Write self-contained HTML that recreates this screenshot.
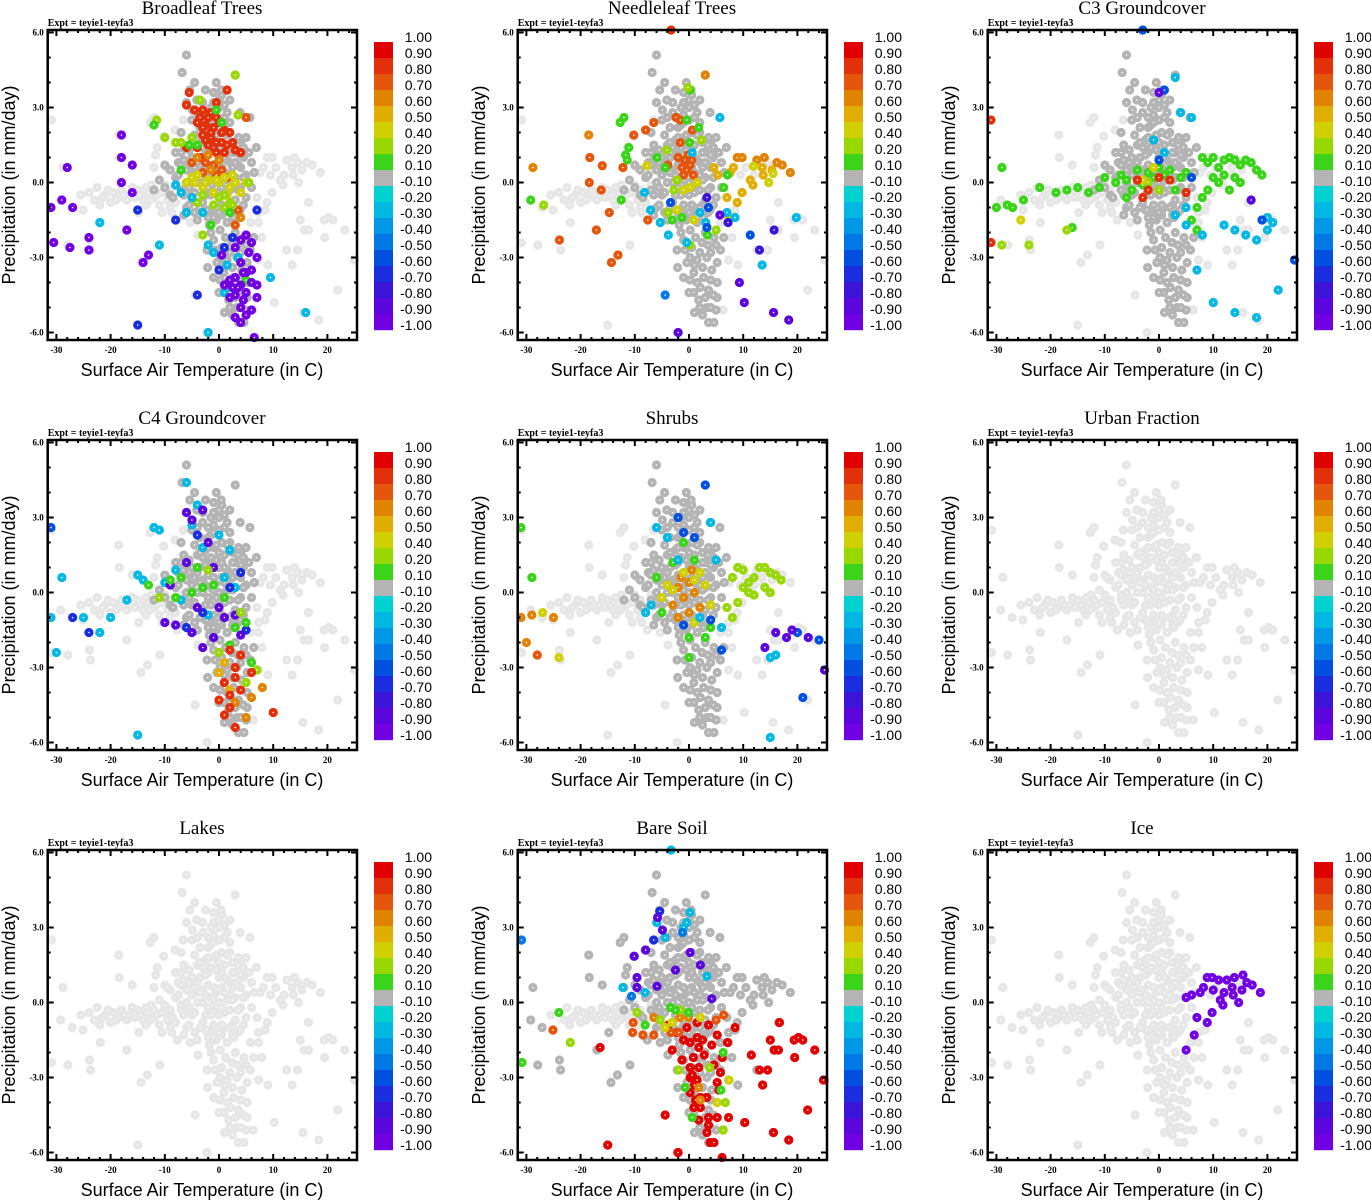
<!DOCTYPE html>
<html><head><meta charset="utf-8">
<style>
html,body{margin:0;padding:0;background:#fff;}
svg{display:block;}
.ttl{font-family:"Liberation Serif",serif;font-size:19px;}
.expt{font-family:"Liberation Serif",serif;font-size:10px;font-weight:bold;}
.tick{font-family:"Liberation Serif",serif;font-size:9px;font-weight:bold;}
.axt{font-family:"Liberation Sans",sans-serif;font-size:18px;}
.cbl{font-family:"Liberation Sans",sans-serif;font-size:14px;}
</style></head>
<body>
<svg id="fig" width="1371" height="1200" viewBox="0 0 1371 1200" xmlns="http://www.w3.org/2000/svg"></svg>
<script>
// ---- data ----
const panelTitles = ["Broadleaf Trees","Needleleaf Trees","C3 Groundcover","C4 Groundcover","Shrubs","Urban Fraction","Lakes","Bare Soil","Ice"];
const xTicks = [-30,-20,-10,0,10,20];
const yTicks = [6,3,0,-3,-6];
const yTickLabels = ["6.0","3.0","0.0","-3.0","-6.0"];
const cbLabels = ["1.00","0.90","0.80","0.70","0.60","0.50","0.40","0.20","0.10","-0.10","-0.20","-0.30","-0.40","-0.50","-0.60","-0.70","-0.80","-0.90","-1.00"];
const cbBounds = [1,0.9,0.8,0.7,0.6,0.5,0.4,0.2,0.1,-0.1,-0.2,-0.3,-0.4,-0.5,-0.6,-0.7,-0.8,-0.9,-1];
const cbColors = ["#e10000","#e2300a","#e4560c","#e08400","#e0ae00","#d0d000","#98d800","#3cd41a","#b4b4b4","#00d2d2","#00b8e2","#0098e6","#0078e6","#0050e0","#1a2ee0","#3c14d8","#5a06dc","#7000e2"];

const baseCore = [[-8,0.2],[-7,-0.3],[-6,0.5],[-5,1.0],[-5,-0.5],[-4,0],[-4,1.5],[-3,0.5],[-3,-0.8],[-2,1.2],[-2,-0.2],[-2,2.2],[-1,0.6],[-1,-0.9],[-1,1.8],[0,0],[0,1],[0,-0.5],[0,2.5],[1,0.4],[1,1.5],[1,-1],[2,0.8],[2,-0.3],[2,2],[3,0.2],[3,1.2],[3,-0.7],[4,0.6],[4,-0.2],[4,1.6],[5,0.3],[5,-0.6],[6,0.8],[-6,-1],[-9,-0.5],[-10,-0.2],[-11,0.1],[-12,-0.3],[-1.5,3],[0.5,3.5],[-3,2.8],[1.5,2.8],[-0.5,-1.5],[1.5,-1.6],[-4.5,-1.2],[2.5,1.6],[-2.5,1.7],[3.5,-1.2],[5.5,1.2],[-5,2.5],[-3.5,2.2],[-1,2.7],[2,2.4],[0,3.0],[-6,0],[-5.5,-0.2],[-4.5,0.6],[-3.5,1.0],[-2.5,0.3],[-1.5,-0.5],[-0.5,0.4],[0.5,-0.2],[1.5,0.9],[2.5,0.1],[3.5,0.7],[4.5,1.0],[-0.5,1.3],[0.5,2.0],[-1.5,2.3],[-2.5,-1.1],[0.5,-0.9],[2.5,-0.9],[-6,5.1],[-6.8,4.4],[3,4.3],[-5.4,3.7],[0.4,3.7],[-6,3.2],[-4.1,3.3],[-1,3.2],[-4.9,2.9],[3.9,2.8],[5.7,2.6],[3.6,1.8],[6.9,1.4],[-6.5,1.5],[-7.5,0.8],[-8.5,-0.6],[-7,1.2],
[-7.5,0.3],[-6.5,-0.5],[-5.5,0.8],[-4.5,-0.4],[-3.5,0.4],[-2.5,-0.5],[-1.5,0.2],[-0.5,-0.2],[0.5,0.6],[1.5,0.1],[2.5,0.6],[3.5,-0.3],[4.5,0.2],[-6.5,0.9],[-5.5,1.3],[-4.5,1.9],[-3.5,1.6],[-2.5,1.1],[-1.5,1.4],[-0.5,1.9],[0.5,1.2],[1.5,1.9],[2.5,1.2],[3.5,1.5],[4.5,1.4],[-5.5,-0.9],[-3.5,-1.0],[-1.5,-1.1],[0.5,-1.3],[2.5,-1.3],[4.5,-0.9],[-4,-1.5],[-2,-1.4],[0,-1.2],[2,-1.0],[-1,2.4],[1,2.6],[-2,2.6],[0,3.3],[-1,3.6],[-3,3.2],[-4,2.6],[1,3.1],[-0.5,4.0],[-2.5,3.7],[-4.5,4.0],[2,3.3],[-7,2.0],[-8,1.2],[-9,0.5],[-10,0.7],[5,1.8],[6,-0.2],[6.5,0.4],[-6.5,-1.3],[-7,0.7],[-3,0],[-2,0.7],[-1,0.1],[0,0.5],[1,-0.4],[2,0.3],[3,0.8],[4,1.1],[-4,0.8],[-5,0.3],[-3,1.4],[-2,1.8],[0,1.6],[1,1.0]];
const baseLeftBand = [[-24,-0.4],[-22.5,-0.2],[-21,-0.5],[-19.5,-0.4],[-18,-0.3],[-16.5,-0.5],[-15,-0.3],[-13.5,-0.2],[-12,-0.6],[-10.5,-0.4],[-9,-0.3],[-23,-0.7],[-20,-0.8],[-17,-0.7],[-14,-0.7],[-11,-0.9],[-8,-0.8],[-7,-0.1],[-12.7,-0.7],[-10.5,-1.2],[-8.7,-1.2],[-25.5,-0.5],[-21.5,-0.6],[-18.5,-0.6],[-15.5,-0.6],[-13,-0.4],[-9.5,-0.7],[-20.5,-0.3],[-17.5,-0.5],[-14.5,-0.5],[-11.5,-0.5],[-16,-0.2],[-12.5,-0.1],[-10,-0.1],[-19,-0.7],[-22,-0.9],[-13.5,-0.9],[-9,-1.0]];
const baseLeftOuter = [[-28.8,0.6],[-30.9,2.5],[-18.5,1.9],[-18.4,1.0],[-16,0.7],[-12.7,2.4],[-12,2.6],[-10.2,1.85],[-11.4,1.4],[-11.7,1.1],[-12,0.6],[-9.6,0.6],[-25.1,-1.1],[-27.1,-1.0],[-29.2,-0.7],[-21.9,-1.6],[-17,-1.9],[-23.9,-2.3],[-23.7,-2.7],[-27.9,-2.5],[-30.9,-2.4],[-14.4,-3.2],[-13.2,-2.9],[-10.9,-2.5],[-15,-5.7],[-4.4,-4.5],[-2.2,-6.0],[-14.8,-1.2],[-7.7,-1.5],[-8.1,2.1],[-6.6,2.5],[-5.3,-1.6],[-3.9,-2.1]];
const baseRight = [[8.9,1.0],[9.8,1.0],[12.5,0.9],[13.9,1.0],[16.2,0.8],[17.2,0.7],[18.7,0.4],[14.7,0.0],[11.3,0.1],[11.8,-0.1],[7.6,0.4],[8.2,0.6],[13.5,0.6],[15.3,0.5],[13.7,0.3],[9.8,-0.4],[8.9,-0.8],[7.0,-0.6],[8.5,-1.1],[7.3,-1.2],[5.8,-1.6],[7.3,-1.6],[7.9,-2.2],[16.5,-0.8],[15.0,-1.5],[15.7,-1.9],[16.5,-1.9],[19.4,-1.5],[20.2,-1.4],[21.0,-1.5],[23.2,-1.9],[19.5,-2.2],[12.5,-2.7],[14.5,-2.7],[13.5,-3.3],[21.9,-4.3],[15.5,-5.2],[18.4,-5.5],[10.2,-4.8],[9.0,-3.3],[7.3,-3.1],[6.3,-5.1],[25,-3.1],[10.5,0.6],[12,0.3],[14.5,0.8],[9.5,0.3]];
const baseLower = [[-2.2,-2.7],[-2.1,-3.4],[-0.4,-3.2],[0.2,-3.9],[0.9,-4.4],[1.8,-4.7],[3.3,-5.0],[3.6,-5.6],[4.6,-5.6],[5.2,-4.6],[5.2,-4.0],[2.7,-3.8],[1.5,-3.1],[3.3,-3.0],[5.2,-3.2],[5.8,-2.7],[6.4,-2.2],[4.6,-2.2],[-1.0,-2.3],[0.2,-1.9],[1.5,-1.6],[2.7,-1.4],[-1.0,-1.4],[3.9,-1.1],[-2.2,-1.1],[0.9,-3.6],[4.2,-3.5],[2.1,-4.2],[3.6,-4.3],[0.2,-3.0],[-0.7,-2.7],[2.4,-2.4],[1.2,-2.2],[3.0,-2.0],[4.0,-2.8],[1.0,-5.2],[4.0,-5.0],[2.5,-5.3],[-1.5,-2.0],[0.5,-2.6],[2,-2.8],[3.5,-2.5],[5,-2.5],[1,-3.3],[2.5,-3.4],[4,-3.9],[0,-4.4],[1.5,-4.0],[3,-4.6],[4.5,-4.5],[2,-5.0],[5,-5.1],[-1,-3.8],[-1.8,-1.7]];

const darkBroadleaf = ["core","lower"];
const darkNeedleleaf = ["core","lower"];
const darkC3 = ["core","lower"];
const darkC4 = ["core","lower"];
const darkShrubs = ["core","lower"];
const darkUrban = [];
const darkLakes = [];
const darkBareSoil = ["core","lower","right","leftOuter"];
const darkIce = [];

const ptsBroadleaf = [[-5.5,3.6,0.85],[-6,3.1,0.85],[-4.5,2.9,0.85],[-3,2.9,0.85],[-1.5,2.8,0.85],[-0.5,3.2,0.85],[1.5,3.7,0.85],[-4,2.4,0.85],[-2.5,2.3,0.85],[-1,2.2,0.85],[0,2.4,0.85],[1,2.1,0.85],[2,2.0,0.85],[-3,1.9,0.85],[-1.5,1.8,0.85],[0.5,1.6,0.85],[-2,1.5,0.85],[-4,1.4,0.85],[3,1.3,0.85],[4,1.2,0.85],[-6,1.4,0.85],[1,1.2,0.85],[-0.5,1.2,0.85],[-3.5,1.0,0.85],[-3.5,2.6,0.85],[-2,2.6,0.85],[-0.5,2.6,0.85],[-3,2.2,0.85],[-1.5,2.0,0.85],[0.5,2.0,0.85],[-2.5,1.7,0.85],[-0.5,1.6,0.85],[1.5,1.5,0.85],[-1,1.4,0.85],[2.5,1.6,0.85],[-2.5,0.8,0.75],[-1,0.7,0.75],[-5,0.8,0.75],[0.5,0.5,0.75],[-3,0.4,0.75],[-0.5,0.3,0.75],[1.5,0.2,0.75],[5,2.6,0.75],[3.5,-1.1,0.75],[3,-1.7,0.75],[4,-1.4,0.65],[-4,1.0,0.65],[-2,1.1,0.65],[0,0.9,0.65],[-1.5,0.5,0.65],[-6,0.0,0.45],[-4,0.3,0.45],[-2,0.1,0.45],[0,0,0.45],[1,0.2,0.45],[2,-0.2,0.45],[3,0.0,0.45],[-3,-0.2,0.45],[-1,-0.4,0.45],[-5,0.2,0.45],[4,-0.4,0.45],[5,0,0.45],[-4.5,0.0,0.45],[-2.5,0.0,0.45],[-0.5,0.1,0.45],[1.5,-0.5,0.45],[2.5,0.3,0.45],[0,-0.6,0.3],[2,-0.8,0.3],[-3,-0.5,0.3],[1,-1.0,0.3],[-4,-0.8,0.3],[-7,1.6,0.3],[-5,1.8,0.3],[3.5,2.7,0.3],[3,4.3,0.3],[-3.5,3.3,0.3],[-8,1.6,0.3],[-10,1.8,0.3],[-11.5,2.5,0.3],[-3,-2.1,0.3],[5.5,0.0,0.3],[-1,-0.9,0.3],[1,-0.5,0.3],[2.5,-0.9,0.3],[-12,2.3,0.15],[-5.5,1.5,0.15],[-7,0.5,0.15],[0.5,2.4,0.15],[5,-3.9,0.15],[-1.5,-1.7,0.15],[2,-1.2,0.15],[-4,1.5,0.15],[-0.5,2.9,0.15],[-7,-0.4,-0.25],[-6,-1.2,-0.25],[-8,-0.1,-0.25],[-22,-1.6,-0.25],[-11,-2.5,-0.25],[16,-5.2,-0.25],[-2,-6.0,-0.25],[9.5,-3.8,-0.25],[-1,-2.8,-0.25],[1.5,-3.3,-0.25],[3.5,-3.0,-0.25],[1,-4.4,-0.25],[-5,-0.6,-0.25],[-3,-1.2,-0.25],[-2,-2.5,-0.25],[-15,-5.7,-0.65],[-15,-1.1,-0.65],[-8,-1.5,-0.65],[-4,-4.5,-0.65],[7,-1.1,-0.65],[1,-2.6,-0.65],[0,-3.5,-0.65],[2.5,-2.2,-0.65],[-18,1.9,-0.95],[-18,1.0,-0.95],[-18,0.0,-0.95],[-16,0.7,-0.95],[-16,-0.4,-0.95],[-28,0.6,-0.95],[-29,-0.7,-0.95],[-27,-1.0,-0.95],[-31,-1.0,-0.95],[-30.5,-2.4,-0.95],[-27.5,-2.6,-0.95],[-24,-2.2,-0.95],[-24,-2.7,-0.95],[-17,-1.9,-0.95],[-13,-2.9,-0.95],[-14,-3.2,-0.95],[4,-2.3,-0.95],[5,-2.1,-0.95],[6,-2.4,-0.95],[4,-3.2,-0.95],[5,-3.6,-0.95],[6,-3.5,-0.95],[3,-3.8,-0.95],[4,-4.1,-0.95],[5,-4.4,-0.95],[2,-4.6,-0.95],[3,-4.5,-0.95],[7,-4.1,-0.95],[4,-5.0,-0.95],[5,-5.3,-0.95],[3,-5.4,-0.95],[4,-5.6,-0.95],[6,-5.1,-0.95],[1,-4.1,-0.95],[2,-3.9,-0.95],[7,-3.0,-0.95],[6.5,-6.2,-0.95],[3,-2.6,-0.95],[7,-4.6,-0.95],[6,-4.0,-0.95],[0.5,-2.9,-0.95],[3.5,-4.2,-0.95],[4.5,-4.7,-0.95],[2.5,-4.2,-0.95],[4.5,-3.6,-0.95],[5.5,-2.8,-0.95]];

const ptsNeedleleaf = [[3,4.3,0.6],[-18.5,1.9,0.6],[-28.8,0.6,0.6],[-18.3,1.0,0.75],[-16,0.67,0.75],[-18.4,0,0.75],[-16.2,-0.3,0.75],[-14.7,-1.2,0.75],[-17.1,-1.9,0.75],[-23.9,-2.3,0.75],[-13.1,-2.9,0.75],[-14.3,-3.2,0.75],[-10.2,1.9,0.75],[-8.0,2.1,0.75],[-6.5,2.4,0.75],[-2.4,2.6,0.75],[-1.6,2.5,0.75],[0.6,2.1,0.75],[-1.6,1.6,0.75],[-7.6,-1.5,0.75],[-12.2,0.6,0.75],[-3.9,0.7,0.75],[-1.3,0.6,0.75],[-0.4,0.5,0.75],[0.2,0.7,0.75],[-1,0.3,0.75],[-2,1.0,0.75],[-0.8,0.9,0.75],[0.8,0.3,0.75],[-0.2,1.1,0.75],[0.5,0.9,0.75],[8.9,1.0,0.6],[9.8,1.0,0.6],[12.5,0.9,0.6],[13.9,1.0,0.6],[16.2,0.8,0.6],[17.2,0.7,0.6],[18.7,0.4,0.6],[11.3,0.1,0.5],[11.8,-0.1,0.5],[7.6,0.4,0.5],[8.2,0.6,0.5],[13.5,0.6,0.5],[15.3,0.5,0.5],[13.7,0.3,0.5],[9.8,-0.4,0.5],[8.9,-0.8,0.5],[7.0,-0.6,0.5],[5.3,0.3,0.5],[4.6,0.6,0.5],[11.9,0.65,0.45],[14.7,0,0.45],[15.5,0.36,0.45],[7,-1.3,0.45],[0.9,-1.5,0.45],[-2.2,-1.1,0.45],[-7.8,0.67,0.45],[0.2,-0.2,0.45],[-1,-0.3,0.45],[1.5,0.0,0.45],[-12.7,2.4,0.15],[-12,2.6,0.15],[-11.1,1.4,0.15],[-11.7,1.1,0.15],[-11.4,0.9,0.15],[-29.2,-0.7,0.15],[-12.5,-0.7,0.15],[0.2,3.7,0.15],[-0.4,2.5,0.15],[1.8,2.2,0.15],[0.1,1.6,0.15],[-5.9,1.0,0.15],[-4.4,0.6,0.15],[-3.1,-1.5,0.15],[-1.3,-1.4,0.15],[3.4,-2.1,0.15],[6.4,-0.2,0.15],[7.1,0.3,0.15],[-26.8,-0.9,0.3],[0.2,-2.5,0.3],[5.0,-1.9,0.3],[-3.9,-1.2,0.3],[2.3,1.7,0.3],[-4.1,1.3,0.3],[-2.2,0.1,0.3],[-2.8,-0.3,0.3],[-0.2,3.8,0.3],[5.7,2.6,-0.25],[-8.2,-0.4,-0.25],[-7.1,-1.1,-0.25],[-5.3,-1.6,-0.25],[-3.8,-2.1,-0.25],[2.0,-1.2,-0.25],[3.1,-1.6,-0.25],[7,-1.2,-0.25],[8.5,-1.4,-0.25],[13.5,-3.3,-0.25],[19.8,-1.4,-0.25],[-0.4,-2.4,-0.25],[0.6,1.2,-0.25],[-4.4,-4.5,-0.45],[11.3,-2.1,-0.55],[-3.4,-0.8,-0.55],[3.6,-1.0,-0.55],[3.3,-1.8,-0.55],[15.7,-1.9,-0.75],[13,-2.7,-0.75],[7.2,-1.6,-0.75],[3.3,-0.6,-0.75],[9.3,-4.0,-0.85],[10.2,-4.8,-0.85],[15.6,-5.2,-0.85],[18.4,-5.5,-0.85],[-2.0,-6.0,-0.85],[5.7,-1.3,-0.85],[-3.3,6.1,0.85]];

const ptsC3 = [[8,1.0,0.15],[9,0.8,0.15],[10,1.0,0.15],[11,0.6,0.15],[12,0.9,0.15],[13,1.0,0.15],[14,0.9,0.15],[15,0.7,0.15],[16,0.9,0.15],[17,0.8,0.15],[18,0.5,0.15],[19,0.3,0.15],[14,0.2,0.15],[15,0,0.15],[12,0.3,0.15],[10,0.2,0.15],[9,-0.3,0.15],[8,-0.6,0.15],[7,-1.0,0.15],[6,-1.5,0.15],[7,-1.9,0.15],[11,0.0,0.15],[13,-0.3,0.15],[-30,-1.0,0.15],[-28,-0.9,0.15],[-27,-1.0,0.15],[-25,-0.7,0.15],[-22,-0.2,0.15],[-19,-0.4,0.15],[-17,-0.3,0.15],[-15,-0.2,0.15],[-13,-0.4,0.15],[-11,-0.2,0.15],[-10,0.2,0.15],[-8,0,0.15],[-7,0.3,0.15],[-6,0.1,0.15],[-5,-0.3,0.15],[-4,0.5,0.15],[-3,-0.1,0.15],[-2,0.4,0.15],[-1,0.2,0.15],[0,0.6,0.15],[1,0.3,0.15],[2,0.5,0.15],[3,-0.3,0.15],[4,0.2,0.15],[5,0.4,0.15],[-29,0.6,0.15],[-16,-1.8,0.15],[-6,-0.6,0.15],[-24,-2.5,0.3],[-17,-1.9,0.3],[-29,-2.5,0.3],[-2,0.0,0.3],[0,-0.3,0.3],[-25.5,-1.5,0.45],[-3,0.1,0.45],[-1,0.6,0.45],[-31,2.5,0.8],[-31,-2.4,0.8],[-4,0.1,0.8],[-2,-0.3,0.8],[0,0.2,0.8],[-3,-0.6,0.8],[2,0.1,0.8],[5,-0.4,0.8],[3,4.2,-0.25],[4,2.8,-0.25],[6,2.6,-0.25],[3,-1.3,-0.25],[5,-1.7,-0.25],[8,-2.1,-0.25],[12,-1.7,-0.25],[14,-1.9,-0.25],[16,-2.1,-0.25],[20,-1.4,-0.25],[21,-1.6,-0.25],[20,-1.9,-0.25],[18,-2.3,-0.25],[22,-4.3,-0.25],[18,-5.4,-0.25],[14,-5.2,-0.25],[10,-4.8,-0.25],[7,-3.5,-0.25],[5,-1.0,-0.25],[1,1.2,-0.25],[-1,1.7,-0.25],[-3,6.1,-0.6],[1,3.7,-0.6],[19,-1.5,-0.6],[25,-3.1,-0.6],[6,0.2,-0.6],[0,0.9,-0.6],[17,-0.7,-0.9],[0,3.6,-0.9]];

const ptsC4 = [[-31,2.6,-0.6],[-29,0.6,-0.25],[-31,-1.0,-0.25],[-25,-1.0,-0.25],[-22,-1.6,-0.25],[-20,-1.0,-0.25],[-12,2.6,-0.25],[-11,2.5,-0.25],[-6,4.4,-0.25],[-4,3.5,-0.25],[-5,2.7,-0.25],[0,2.3,-0.25],[-3,1.8,-0.25],[2,1.7,-0.25],[-7,-0.3,-0.25],[-10,0.4,-0.25],[-14,0.5,-0.25],[-17,-0.3,-0.25],[-15,0.7,-0.25],[-8,0.9,-0.25],[1,0.6,-0.25],[3,0.2,-0.25],[-2,-0.9,-0.25],[-30,-2.4,-0.25],[-15,-5.7,-0.25],[-27,-1.0,-0.65],[-24,-1.6,-0.65],[-4,2.3,-0.65],[-3,-0.8,-0.65],[4,0.8,-0.65],[2,0.2,-0.65],[-6,-1.4,-0.65],[5,-1.5,-0.65],[-6,3.2,-0.9],[-5,2.9,-0.9],[-3,3.3,-0.9],[-2,2.0,-0.9],[-6,1.2,-0.9],[-10,-1.2,-0.9],[-8,-1.3,-0.9],[-5,-1.6,-0.9],[-3,-2.2,-0.9],[-1,-1.8,-0.9],[0,-0.6,-0.9],[1,-1.0,-0.9],[3,-0.9,-0.9],[4,-1.7,-0.9],[-9,0.3,-0.9],[-1,1.0,-0.9],[-4,-0.6,-0.9],[-13,0.3,0.15],[-9,0.5,0.15],[-7,0.6,0.15],[-5,0.0,0.15],[-3,0.2,0.15],[-1,0.3,0.15],[1,-0.2,0.15],[3,-1.4,0.15],[5,-1.2,0.15],[-4,1.0,0.15],[6,-2.8,0.15],[-8,-0.2,0.15],[2,-2.1,0.15],[-11,-0.2,0.3],[4,-0.8,0.3],[7,-3.1,0.3],[0,-2.4,0.3],[5,-3.6,0.3],[-2,0.9,0.3],[0,-3.2,0.5],[2,-3.9,0.5],[1,-2.8,0.5],[3,-4.4,0.6],[8,-3.8,0.6],[6,-4.2,0.6],[5,-5.0,0.6],[1,-3.6,0.8],[2,-4.1,0.8],[3,-3.4,0.8],[4,-3.9,0.8],[2,-4.6,0.8],[1,-4.9,0.8],[3,-5.4,0.8],[6,-3.2,0.8],[4,-2.5,0.8],[2,-2.3,0.8],[3,-3.0,0.8],[10,-4.8,0.8],[0,-4.3,0.8]];

const ptsShrubs = [[9,1.0,0.35],[10,0.9,0.35],[13,1.0,0.35],[14,1.0,0.35],[15,0.8,0.35],[16,0.7,0.35],[17,0.5,0.35],[12,0.6,0.35],[11,0.4,0.35],[14,0.2,0.35],[8,0.6,0.35],[10,0.2,0.35],[12,-0.1,0.35],[9,-0.4,0.35],[7,-0.6,0.35],[15,0.0,0.35],[11,0.0,0.35],[8,-1.0,0.35],[-31,-1.0,0.65],[-29,-0.9,0.65],[-27,-0.8,0.45],[-25,-1.0,0.65],[-28,-2.5,0.75],[-30,-2.0,0.65],[-24,-2.6,0.45],[-29,0.6,0.15],[-31,2.6,0.15],[-2,0.2,0.65],[-1,-0.2,0.65],[0,0.4,0.65],[1,0,0.65],[-3,-0.5,0.65],[2,-0.6,0.65],[0,-0.8,0.65],[-2,-1.0,0.65],[-1.5,0.6,0.65],[0.5,0.9,0.65],[-4,0.3,0.45],[3,0.3,0.45],[-1,0.8,0.45],[1,-1.2,0.45],[-5,-0.2,0.45],[4,-0.5,0.45],[2,0.8,0.45],[-3,0.1,0.45],[1,0.5,0.45],[-6,0.6,0.15],[-5,-0.8,0.15],[1,1.3,0.15],[0,-1.8,0.15],[-3,1.2,0.15],[4,-1.4,0.15],[0,-2.6,0.15],[3,-1.8,0.15],[-1,2.0,0.15],[-6,2.6,-0.3],[-4,2.2,-0.3],[4,2.8,-0.3],[5,1.3,-0.3],[-2,1.3,-0.3],[2,-1.0,-0.3],[-7,-0.5,-0.3],[6,-1.4,-0.3],[15,-5.8,-0.3],[16,-2.5,-0.3],[15,-2.6,-0.3],[-8,-0.8,-0.3],[-2,3.0,-0.6],[3,4.3,-0.6],[-1,2.4,-0.6],[1,2.2,-0.6],[4,-1.1,-0.6],[20,-1.6,-0.6],[24,-1.9,-0.6],[21,-4.2,-0.6],[6,-2.3,-0.6],[-1,-1.3,-0.6],[16,-1.6,-0.85],[18,-1.8,-0.85],[14,-2.2,-0.85],[22,-1.8,-0.85],[25,-3.1,-0.85],[19,-1.5,-0.85]];

const ptsUrban = [];
const ptsLakes = [];

const ptsBareSoil = [[16.7,-0.8,0.95],[15,-1.5,0.95],[15.7,-1.9,0.95],[16.5,-1.9,0.95],[19.4,-1.5,0.95],[20.2,-1.4,0.95],[21,-1.5,0.95],[23.2,-1.9,0.95],[19.5,-2.2,0.95],[11.5,-2.1,0.95],[13,-2.7,0.95],[14.5,-2.7,0.95],[13.6,-3.3,0.95],[21.9,-4.3,0.95],[15.6,-5.2,0.95],[18.4,-5.5,0.95],[10.3,-4.8,0.95],[24.8,-3.1,0.95],[-4.4,-4.5,0.95],[-15,-5.7,0.95],[-2,-6.0,0.95],[6.1,-6.2,0.95],[-16.4,-1.8,0.95],[-0.4,-1.0,0.95],[1.5,-0.8,0.95],[3.6,-0.9,0.95],[5.2,-1.3,0.95],[7.1,-1.6,0.95],[8.5,-1.0,0.95],[-3.1,-1.9,0.95],[-1,-1.5,0.95],[0.2,-1.6,0.95],[1.8,-1.8,0.95],[4.2,-1.7,0.95],[6.1,-2.2,0.95],[-1.3,-2.3,0.95],[0.2,-2.6,0.95],[1.8,-2.6,0.95],[4.6,-2.5,0.95],[5.8,-2.8,0.95],[0.2,-3.0,0.95],[1.5,-3.1,0.95],[5.2,-3.2,0.95],[5.5,-3.5,0.95],[0.2,-3.6,0.95],[2.1,-3.8,0.95],[3.3,-3.8,0.95],[0.9,-4.2,0.95],[2.1,-4.2,0.95],[3.6,-4.6,0.95],[5.2,-4.6,0.95],[1.8,-4.7,0.95],[7.3,-4.6,0.95],[3.6,-4.9,0.95],[3.3,-5.2,0.95],[3.9,-5.6,0.95],[4.6,-5.6,0.95],[1.5,-1.4,0.95],[-2.2,-1.2,0.95],[-3.8,-0.9,0.95],[1.0,-3.3,0.95],[2.8,-2.1,0.95],[0.8,-2.2,0.95],[2.5,-1.5,0.95],[1.2,-3.9,0.95],[0.6,-2.9,0.95],[-10.3,-0.8,0.75],[-10.4,-1.2,0.75],[-8.5,-1.3,0.75],[-6.5,-1.3,0.75],[-25.1,-1.1,0.75],[-3.3,-1.2,0.75],[-1.9,-1.2,0.75],[6.4,-0.5,0.75],[5.0,-0.7,0.75],[-6.5,-0.6,0.6],[-1.7,-0.6,0.6],[-0.1,-0.6,0.6],[1.8,-3.4,0.6],[2.1,-3.9,0.6],[-4.4,-1.0,0.45],[-3.1,-0.8,0.45],[7.4,-3.1,0.45],[5.2,-4.0,0.45],[2.1,-0.6,0.45],[-21.9,-1.6,0.3],[-9.6,-0.4,0.3],[-5.3,-0.7,0.3],[-1.6,-0.3,0.3],[-1.9,-2.7,0.3],[6.3,-5.1,0.3],[3.8,-2.6,0.3],[6.7,-4.0,0.3],[-24,-0.4,0.15],[-30.8,-2.4,0.15],[-8.1,-0.9,0.15],[-3.4,-0.2,0.15],[-0.1,-0.4,0.15],[-0.7,-3.4,0.15],[0.6,-4.6,0.15],[6.3,-2.0,0.15],[5.9,-3.5,0.15],[-2.5,-0.3,0.15],[-12.2,0.6,-0.25],[-5.9,3.2,-0.25],[-4.4,2.6,-0.25],[-1,3.0,-0.25],[-0.4,3.2,-0.25],[0.2,3.6,-0.25],[3.3,1.05,-0.25],[-8.1,0.4,-0.25],[-3.3,6.1,-0.25],[-30.9,2.5,-0.45],[-10.6,0.25,-0.45],[-1.2,2.8,-0.45],[-5.4,3.65,-0.65],[-6.5,2.5,-0.65],[-5.8,3.4,-0.9],[-4.9,2.9,-0.9],[-8,2.1,-0.9],[-10.1,1.85,-0.9],[-9.6,1.0,-0.9],[-9.6,0.6,-0.9],[-5.9,0.65,-0.9],[2.1,1.5,-0.9],[-2.5,1.3,-0.9],[0.2,2.0,-0.9],[4.2,0.15,-0.9]];

const ptsIce = [[8.9,1.0,-0.95],[9.8,1.0,-0.95],[12.5,0.9,-0.95],[13.9,1.0,-0.95],[16.2,0.8,-0.95],[17.2,0.7,-0.95],[18.7,0.4,-0.95],[14.7,0.0,-0.95],[11.3,0.1,-0.95],[11.8,-0.1,-0.95],[7.6,0.4,-0.95],[8.2,0.6,-0.95],[13.5,0.6,-0.95],[15.3,0.5,-0.95],[13.7,0.3,-0.95],[9.8,-0.4,-0.95],[8.9,-0.8,-0.95],[7.0,-0.6,-0.95],[6,0.3,-0.95],[5,0.2,-0.95],[10,0.5,-0.95],[12,0.4,-0.95],[6.5,-1.3,-0.95],[5,-1.9,-0.95],[15.5,1.1,-0.95],[11,0.9,-0.95]];

const panelPts = [ptsBroadleaf,ptsNeedleleaf,ptsC3,ptsC4,ptsShrubs,ptsUrban,ptsLakes,ptsBareSoil,ptsIce];
const panelDark = [darkBroadleaf,darkNeedleleaf,darkC3,darkC4,darkShrubs,darkUrban,darkLakes,darkBareSoil,darkIce];
const baseGroups = {core:baseCore,leftBand:baseLeftBand,leftOuter:baseLeftOuter,right:baseRight,lower:baseLower};

// ---- drawing ----
const NS = "http://www.w3.org/2000/svg";
const svg = document.getElementById('fig');
function mk(tag, attrs, parent){ const e=document.createElementNS(NS,tag); for(const k in attrs) e.setAttribute(k,attrs[k]); (parent||svg).appendChild(e); return e; }
function colorFor(v){ for(let i=0;i<cbColors.length;i++){ if(v<=cbBounds[i] && v>=cbBounds[i+1]) return cbColors[i]; } return v>0?cbColors[0]:cbColors[17]; }
const MR = 2.7, MSW = 3.8;

for(let p=0;p<9;p++){
  const c=p%3, r=Math.floor(p/3);
  const dx=470*c, dy=410*r;
  const X = v => 219+dx+5.42*v;
  const Y = v => 182.5+dy-25*v;
  const L=47.7+dx, R=357+dx, T=30+dy, B=340+dy;
  const g = mk('g',{});
  
  

  const t = mk('text',{x:202+dx,y:14+dy,'text-anchor':'middle','class':'ttl'},g); t.textContent=panelTitles[p];
  
  
  const ex = mk('text',{x:L,y:26+dy,'class':'expt'},g); ex.textContent='Expt = teyie1-teyfa3';
  
  

  const pg = mk('g',{'stroke-width':MSW,fill:'#fff'},g);
  
  
  const dark = panelDark[p];
  for(const gname in baseGroups){
    if(dark.indexOf(gname)>=0) continue;
    for(const pt of baseGroups[gname]){
      const ci = mk('circle',{cx:X(pt[0]),cy:Y(pt[1]),r:MR,stroke:'#e6e6e6'},pg);
      
      
    }
  }
  for(const gname of dark){
    for(const pt of baseGroups[gname]){
      const ci = mk('circle',{cx:X(pt[0]),cy:Y(pt[1]),r:MR,stroke:'#b4b4b4'},pg);
      
      
    }
  }
  for(const pt of panelPts[p]){
    const ci = mk('circle',{cx:X(pt[0]),cy:Y(pt[1]),r:MR,stroke:colorFor(pt[2])},pg);
    
    
  }

  const fr = mk('rect',{x:L,y:T,width:R-L,height:B-T,fill:'none',stroke:'#000','stroke-width':2.5},g);
  
  
  let d='';
  for(let v=-30; v<=24; v+=2){ const x=X(v); const len=(v%10===0)?6:3; d+=`M${x},${B}v${-len}M${x},${T}v${len}`; }
  for(let v=-6; v<=6; v+=1){ const y=Y(v); const len=(v%3===0)?6:3; d+=`M${L},${y}h${len}M${R},${y}h${-len}`; }
  const tk = mk('path',{d:d,stroke:'#000','stroke-width':2,fill:'none'},g);
  
  
  xTicks.forEach(v=>{ const tl=mk('text',{x:X(v),y:B+13,'text-anchor':'middle','class':'tick'},g); tl.textContent=String(v);
    
     });
  yTicks.forEach((v,i)=>{ const tl=mk('text',{x:L-4,y:Y(v)+3,'text-anchor':'end','class':'tick'},g); tl.textContent=yTickLabels[i];
    
     });
  const xt = mk('text',{x:202+dx,y:376+dy,'text-anchor':'middle','class':'axt'},g); xt.textContent='Surface Air Temperature (in C)';
  
  
  const yt = mk('text',{x:0,y:0,'text-anchor':'middle','class':'axt',transform:`translate(${15+dx},${185+dy}) rotate(-90)`},g); yt.textContent='Precipitation (in mm/day)';
  
  

  const cb = mk('g',{},g);
  
  
  cbColors.forEach((col,i)=>{ const rc=mk('rect',{x:374+dx,y:42+dy+16*i,width:19,height:16.2,fill:col},cb);
    
     });
  cbLabels.forEach((lab,i)=>{ const tl=mk('text',{x:432+dx,y:42+dy+16*i,'text-anchor':'end','class':'cbl'},cb); tl.textContent=lab;
    
     });
}
</script>
</body></html>
